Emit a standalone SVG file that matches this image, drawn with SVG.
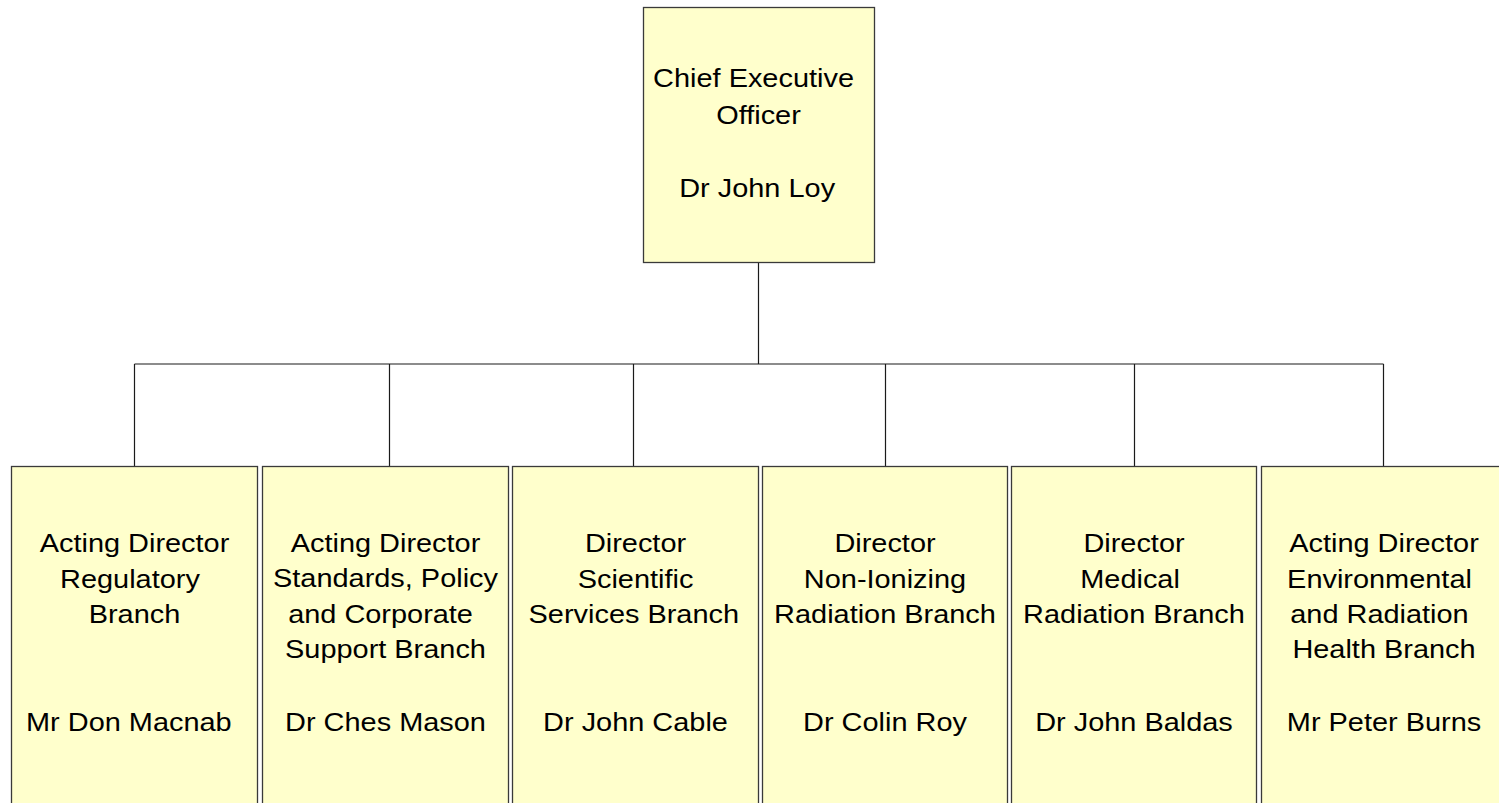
<svg xmlns="http://www.w3.org/2000/svg" width="1499" height="803" viewBox="0 0 1499 803">
<style>
.box{fill:#FFFFCC;stroke:#3a3a3a;stroke-width:1.3}
.conn{fill:none;stroke:#1a1a1a;stroke-width:1.2}
.lbl{font-family:"Liberation Sans",Arial,sans-serif;font-size:25.6px;fill:#000;text-anchor:middle}
</style>
<rect x="0" y="0" width="1499" height="803" fill="#ffffff"/>
<g id="connectors">
<path class="conn" d="M758.5,263 V364 M134.5,364 H1383.5 M134.5,364 V466 M389.5,364 V466 M633.5,364 V466 M885.5,364 V466 M1134.5,364 V466 M1383.5,364 V466"/>
</g>
<g id="ceo">
<rect class="box" x="643.5" y="7.5" width="231" height="255"/>
<text class="lbl" transform="translate(758.5 0) scale(1.13 1)"><tspan x="-4.4" y="87">Chief Executive</tspan><tspan x="0" y="124">Officer</tspan><tspan x="-1.2" y="197">Dr John Loy</tspan></text>
</g>
<g id="regulatory">
<rect class="box" x="11.5" y="466.5" width="246" height="350"/>
<text class="lbl" transform="translate(134.5 0) scale(1.13 1)"><tspan x="0" y="552">Acting Director</tspan><tspan x="-4" y="588">Regulatory</tspan><tspan x="0" y="623">Branch</tspan><tspan x="-5" y="731">Mr Don Macnab</tspan></text>
</g>
<g id="standards">
<rect class="box" x="262.5" y="466.5" width="246" height="350"/>
<text class="lbl" transform="translate(385.5 0) scale(1.13 1)"><tspan x="0" y="552">Acting Director</tspan><tspan x="0" y="587">Standards, Policy</tspan><tspan x="-4.4" y="623">and Corporate</tspan><tspan x="0" y="658">Support Branch</tspan><tspan x="0" y="731">Dr Ches Mason</tspan></text>
</g>
<g id="scientific">
<rect class="box" x="512.5" y="466.5" width="246" height="350"/>
<text class="lbl" transform="translate(635.5 0) scale(1.13 1)"><tspan x="0" y="552">Director</tspan><tspan x="0" y="588">Scientific</tspan><tspan x="-1.5" y="623">Services Branch</tspan><tspan x="0" y="731">Dr John Cable</tspan></text>
</g>
<g id="nonionizing">
<rect class="box" x="762.5" y="466.5" width="245" height="350"/>
<text class="lbl" transform="translate(885 0) scale(1.13 1)"><tspan x="0" y="552">Director</tspan><tspan x="0" y="588">Non-Ionizing</tspan><tspan x="0" y="623">Radiation Branch</tspan><tspan x="0" y="731">Dr Colin Roy</tspan></text>
</g>
<g id="medical">
<rect class="box" x="1011.5" y="466.5" width="245" height="350"/>
<text class="lbl" transform="translate(1134 0) scale(1.13 1)"><tspan x="0" y="552">Director</tspan><tspan x="-3.5" y="588">Medical</tspan><tspan x="0" y="623">Radiation Branch</tspan><tspan x="0" y="731">Dr John Baldas</tspan></text>
</g>
<g id="environmental">
<rect class="box" x="1261.5" y="466.5" width="246" height="350"/>
<text class="lbl" transform="translate(1384 0) scale(1.13 1)"><tspan x="0" y="552">Acting Director</tspan><tspan x="-4" y="588">Environmental</tspan><tspan x="-4" y="623">and Radiation</tspan><tspan x="0" y="658">Health Branch</tspan><tspan x="0" y="731">Mr Peter Burns</tspan></text>
</g>
</svg>
